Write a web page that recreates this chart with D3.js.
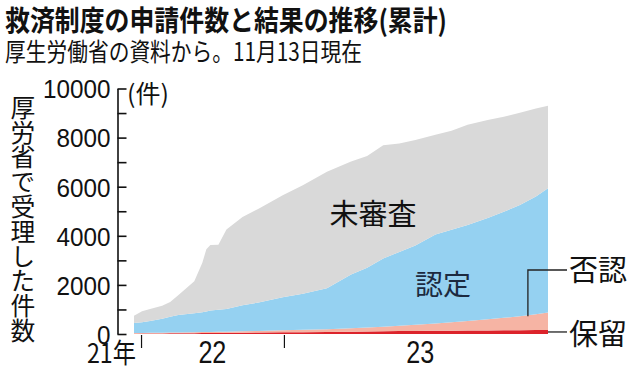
<!DOCTYPE html>
<html lang="ja">
<head>
<meta charset="utf-8">
<script src="https://d3js.org/d3.v7.min.js"></script>
<style>
  body { margin: 0; background: #fff; }
  svg { display: block; }
  text { font-family: "Noto Sans CJK JP", sans-serif; fill: #111; }
  .num { font-family: "Liberation Sans", Arial, sans-serif; }
</style>
</head>
<body>
<svg id="chart" width="640" height="370"></svg>
<script>
// x runs along the review sessions, not calendar time
const sessions = [1, 3, 5, 8, 10, 12, 16, 18, 19, 20, 22, 24, 28, 32, 38, 43, 49, 55, 59, 63, 67, 71, 76, 80, 84, 89, 93, 97, 101, 104];
// cumulative applications received (件)
const applied  = [745, 930, 1020, 1150, 1300, 1580, 2150, 2900, 3450, 3625, 3640, 4260, 4770, 5100, 5650, 6060, 6610, 7030, 7250, 7690, 7760, 7900, 8120, 8280, 8520, 8720, 8850, 9010, 9190, 9300];
const approved = [410, 435, 480, 565, 640, 710, 775, 810, 838, 875, 900, 925, 1060, 1155, 1350, 1470, 1665, 2190, 2440, 2780, 3000, 3220, 3620, 3770, 3910, 4120, 4320, 4530, 4800, 5055];
const rejected = [25, 27, 30, 30, 32, 35, 40, 42, 42, 43, 45, 47, 55, 63, 80, 95, 110, 135, 160, 190, 220, 255, 300, 345, 390, 455, 510, 565, 640, 715];
const pending  = [15, 18, 20, 25, 28, 30, 35, 38, 40, 42, 45, 48, 55, 62, 70, 75, 85, 95, 100, 110, 120, 125, 130, 135, 140, 145, 150, 155, 160, 165];

const keys = ["保留", "否認", "認定", "未審査"];
const colors = ["#dc232b", "#f6b4a4", "#95d1f1", "#d9d9d9"];

// session where each year starts, and where the year labels sit
const yearTicks = [2.75, 38.3];
const yearLabels = ["21年", "22", "23"];
const yearLabelPos = [-4.6, 20.5, 72.2];

const yTicks = [0, 1000, 2000, 3000, 4000, 5000, 6000, 7000, 8000, 9000, 10000];

const rows = sessions.map((s, i) => ({
    s: s,
    "保留": pending[i],
    "否認": rejected[i],
    "認定": approved[i],
    "未審査": applied[i] - approved[i] - rejected[i] - pending[i]
}));

const svg = d3.select("#chart");

const x = d3.scaleLinear().domain([1, 104]).range([134, 548]);
const y = d3.scaleLinear().domain([0, 10000]).range([334, 88.5]);

const series = d3.stack().keys(keys)(rows);
const area = d3.area()
    .x(d => x(d.data.s))
    .y0(d => y(d[0]))
    .y1(d => y(d[1]));

svg.selectAll(".layer")
    .data(series)
    .enter().append("path")
    .attr("class", "layer")
    .attr("d", area)
    .attr("fill", (d, i) => colors[i]);

// y axis: ticks point into the plot, labels on the left
const yAxis = svg.append("g")
    .attr("transform", "translate(117.5,0)")
    .call(d3.axisLeft(y)
        .tickValues(yTicks)
        .tickSizeInner(-9)
        .tickSizeOuter(0)
        .tickPadding(7)
        .tickFormat(d => d % 2000 === 0 ? d : ""));
yAxis.select(".domain").attr("stroke", "#111").attr("stroke-width", 1.6);
yAxis.selectAll(".tick line").attr("stroke", "#111").attr("stroke-width", 1.6);
yAxis.selectAll(".tick text")
    .attr("class", "num")
    .attr("font-size", 26)
    .attr("dy", "0.36em")
    .attr("textLength", d => String(d).length * 13.5)
    .attr("lengthAdjust", "spacingAndGlyphs")
    .style("fill", "#111");

svg.append("text")
    .attr("x", 127)
    .attr("y", 103)
    .attr("font-size", 25)
    .text("(件)");

// x axis: only year boundary ticks, no baseline
const xAxis = svg.append("g")
    .attr("transform", "translate(0,335)")
    .call(d3.axisBottom(x).tickValues(yearTicks).tickSize(13).tickFormat(""));
xAxis.select(".domain").remove();
xAxis.selectAll(".tick line").attr("stroke", "#111").attr("stroke-width", 1.2);

svg.selectAll(".year")
    .data(yearLabels)
    .enter().append("text")
    .attr("class", (d, i) => i === 0 ? "year" : "year num")
    .attr("x", (d, i) => x(yearLabelPos[i]))
    .attr("y", 363)
    .attr("text-anchor", "middle")
    .attr("font-size", (d, i) => i === 0 ? 27 : 31)
    .attr("textLength", (d, i) => i === 0 ? 49 : 28)
    .attr("lengthAdjust", "spacingAndGlyphs")
    .text(d => d);

// vertical axis title
svg.append("text")
    .attr("x", 23)
    .attr("y", 95)
    .attr("font-size", 24.8)
    .style("writing-mode", "vertical-rl")
    .text("厚労省で受理した件数");

// titles
svg.append("text")
    .attr("x", 5)
    .attr("y", 31)
    .attr("font-size", 28.5)
    .attr("font-weight", 700)
    .attr("textLength", 442)
    .attr("lengthAdjust", "spacingAndGlyphs")
    .text("救済制度の申請件数と結果の推移(累計)");

svg.append("text")
    .attr("x", 5)
    .attr("y", 61)
    .attr("font-size", 25)
    .attr("textLength", 357)
    .attr("lengthAdjust", "spacingAndGlyphs")
    .text("厚生労働省の資料から。11月13日現在");

// labels inside the areas
svg.append("text")
    .attr("x", 373).attr("y", 225)
    .attr("text-anchor", "middle")
    .attr("font-size", 29)
    .text("未審査");

svg.append("text")
    .attr("x", 443).attr("y", 295)
    .attr("text-anchor", "middle")
    .attr("font-size", 28)
    .style("fill", "#1c2a40")
    .text("認定");

// leader lines for the thin bands
const iRej = sessions.indexOf(97);
const last = sessions.length - 1;
svg.append("path")
    .attr("d", `M${x(99)},${y(pending[iRej] + rejected[iRej])}V270H567`)
    .attr("fill", "none")
    .attr("stroke", "#222")
    .attr("stroke-width", 1.3);
svg.append("path")
    .attr("d", `M${x(104)},${y(pending[last] / 2)}H567`)
    .attr("fill", "none")
    .attr("stroke", "#222")
    .attr("stroke-width", 1.3);

svg.append("text").attr("x", 569).attr("y", 281).attr("font-size", 29).text("否認");
svg.append("text").attr("x", 569).attr("y", 345).attr("font-size", 29).text("保留");
</script>
</body>
</html>
